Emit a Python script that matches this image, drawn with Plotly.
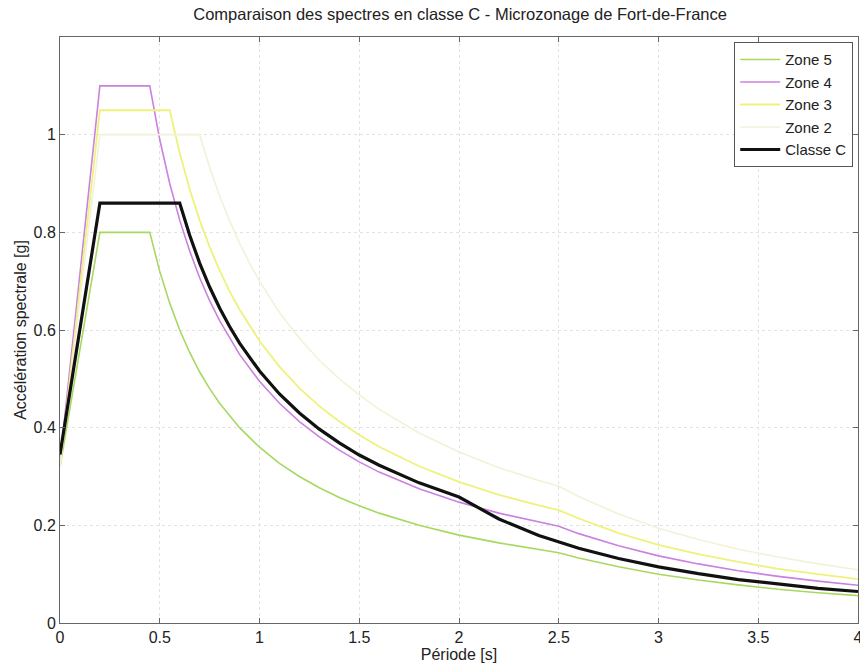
import plotly.graph_objects as go

# ---- data ----
T_zone5 = [0, 0.2, 0.45, 0.5, 0.55, 0.6, 0.65, 0.7, 0.75, 0.8, 0.9, 1.0, 1.1, 1.2, 1.3, 1.4, 1.5, 1.6, 1.8, 2.0, 2.2, 2.4, 2.5, 2.6, 2.8, 3.0, 3.2, 3.4, 3.6, 3.8, 4.0]
Sa_zone5 = [0.32, 0.80, 0.80, 0.72, 0.655, 0.60, 0.554, 0.514, 0.48, 0.45, 0.40, 0.36, 0.327, 0.30, 0.277, 0.257, 0.24, 0.225, 0.20, 0.18, 0.164, 0.15, 0.144, 0.133, 0.115, 0.10, 0.088, 0.078, 0.069, 0.062, 0.056]

T_zone4 = [0, 0.2, 0.45, 0.5, 0.55, 0.6, 0.65, 0.7, 0.75, 0.8, 0.9, 1.0, 1.1, 1.2, 1.3, 1.4, 1.5, 1.6, 1.8, 2.0, 2.2, 2.4, 2.5, 2.6, 2.8, 3.0, 3.2, 3.4, 3.6, 3.8, 4.0]
Sa_zone4 = [0.33, 1.10, 1.10, 0.99, 0.90, 0.825, 0.762, 0.707, 0.66, 0.619, 0.55, 0.495, 0.45, 0.4125, 0.381, 0.354, 0.33, 0.309, 0.275, 0.2475, 0.225, 0.206, 0.198, 0.183, 0.158, 0.1375, 0.121, 0.107, 0.0955, 0.0857, 0.0773]

T_zone3 = [0, 0.2, 0.55, 0.6, 0.65, 0.7, 0.75, 0.8, 0.85, 0.9, 1.0, 1.1, 1.2, 1.3, 1.4, 1.5, 1.6, 1.8, 2.0, 2.2, 2.4, 2.5, 2.6, 2.8, 3.0, 3.2, 3.4, 3.6, 3.8, 4.0]
Sa_zone3 = [0.32, 1.05, 1.05, 0.9625, 0.888, 0.825, 0.77, 0.722, 0.679, 0.642, 0.5775, 0.525, 0.481, 0.444, 0.4125, 0.385, 0.361, 0.321, 0.289, 0.2625, 0.241, 0.231, 0.214, 0.184, 0.160, 0.141, 0.125, 0.111, 0.100, 0.090]

T_zone2 = [0, 0.2, 0.7, 0.75, 0.8, 0.85, 0.9, 0.95, 1.0, 1.1, 1.2, 1.3, 1.4, 1.5, 1.6, 1.8, 2.0, 2.2, 2.4, 2.5, 2.6, 2.8, 3.0, 3.2, 3.4, 3.6, 3.8, 4.0]
Sa_zone2 = [0.32, 1.00, 1.00, 0.933, 0.875, 0.824, 0.778, 0.737, 0.70, 0.636, 0.583, 0.538, 0.50, 0.467, 0.4375, 0.389, 0.35, 0.318, 0.292, 0.28, 0.259, 0.223, 0.194, 0.171, 0.151, 0.135, 0.121, 0.109]

T_classeC = [0, 0.2, 0.6, 0.65, 0.7, 0.75, 0.8, 0.85, 0.9, 1.0, 1.1, 1.2, 1.3, 1.4, 1.5, 1.6, 1.8, 2.0, 2.2, 2.4, 2.6, 2.8, 3.0, 3.2, 3.4, 3.6, 3.8, 4.0]
Sa_classeC = [0.345, 0.86, 0.86, 0.794, 0.737, 0.688, 0.645, 0.607, 0.573, 0.516, 0.469, 0.430, 0.397, 0.369, 0.344, 0.323, 0.287, 0.258, 0.213, 0.179, 0.153, 0.132, 0.115, 0.101, 0.089, 0.080, 0.071, 0.0645]

x_ticks = [0, 0.5, 1, 1.5, 2, 2.5, 3, 3.5, 4]
x_ticklabels = ["0", "0.5", "1", "1.5", "2", "2.5", "3", "3.5", "4"]
y_ticks = [0, 0.2, 0.4, 0.6, 0.8, 1]
y_ticklabels = ["0", "0.2", "0.4", "0.6", "0.8", "1"]

series = [
    ("Zone 5", T_zone5, Sa_zone5, "#a8d860", 1.6),
    ("Zone 4", T_zone4, Sa_zone4, "#cc80e0", 1.6),
    ("Zone 3", T_zone3, Sa_zone3, "#eef27a", 1.8),
    ("Zone 2", T_zone2, Sa_zone2, "#f2f2d8", 1.6),
    ("Classe C", T_classeC, Sa_classeC, "#111111", 3.2),
]

fig = go.Figure()
for name, xs, ys, color, w in series:
    fig.add_trace(go.Scatter(x=xs, y=ys, mode="lines", name=name,
                             line=dict(color=color, width=w)))

font = "Liberation Sans, Arial, sans-serif"
fig.update_layout(
    width=860, height=667,
    margin=dict(l=60, r=2, t=37, b=44, autoexpand=False),
    paper_bgcolor="white", plot_bgcolor="white",
    font=dict(family=font, size=16, color="#222222"),
    title=dict(text="Comparaison des spectres en classe C - Microzonage de Fort-de-France",
               x=0.535, xanchor="center", y=0.978, yanchor="middle",
               font=dict(size=16.5, color="#222222")),
    showlegend=True,
    legend=dict(x=0.994, y=0.991, xanchor="right", yanchor="top",
                bgcolor="white", bordercolor="#555555", borderwidth=1,
                font=dict(size=15), tracegroupgap=0, itemwidth=40),
)
fig.update_xaxes(range=[0, 4], tickvals=x_ticks, ticktext=x_ticklabels,
                 showgrid=True, gridcolor="#e2e2e2", griddash="dot", gridwidth=1,
                 showline=True, linecolor="#666666", linewidth=1, mirror="ticks",
                 ticks="inside", ticklen=5, tickcolor="#666666",
                 zeroline=False, ticklabeloverflow="allow", automargin=False,
                 tickfont=dict(size=16),
                 title=dict(text="Période [s]", standoff=0, font=dict(size=16)))
fig.update_yaxes(range=[0, 1.2], tickvals=y_ticks, ticktext=y_ticklabels,
                 showgrid=True, gridcolor="#e2e2e2", griddash="dot", gridwidth=1,
                 showline=True, linecolor="#666666", linewidth=1, mirror="ticks",
                 ticks="inside", ticklen=5, tickcolor="#666666",
                 zeroline=False, automargin=False,
                 tickfont=dict(size=16),
                 title=dict(text="Accélération spectrale [g]", standoff=2, font=dict(size=16)))

fig.write_html("out.html")
